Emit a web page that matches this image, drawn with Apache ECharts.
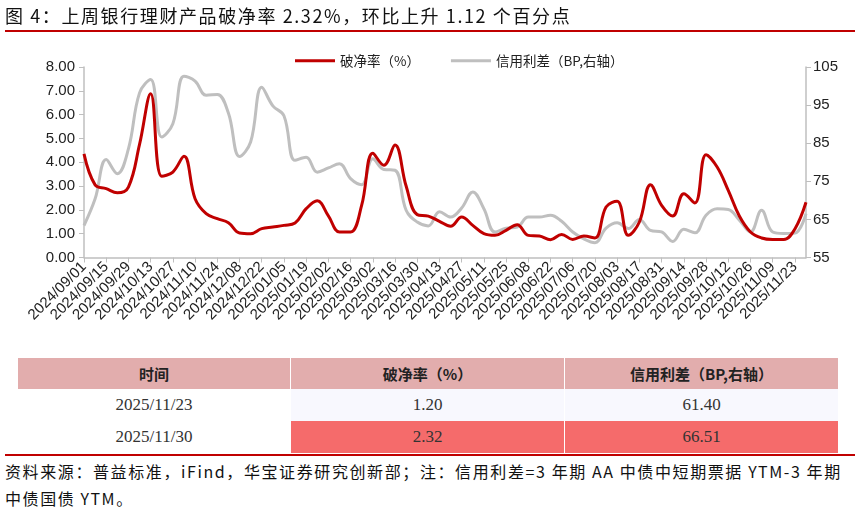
<!DOCTYPE html>
<html lang="zh">

<head>
  <meta charset="UTF-8">
  <title>银行理财产品破净率</title>
  <style>
    body {
      margin: 0;
      width: 861px;
      height: 518px;
      position: relative;
      background: #fff;
      font-family: "Noto Sans CJK SC", sans-serif;
      overflow: hidden;
    }

    #title {
      position: absolute;
      left: 5px;
      top: 2px;
      font-size: 18px;
      letter-spacing: 1.6px;
      color: #111;
      white-space: nowrap;
    }

    .redline {
      position: absolute;
      left: 5px;
      width: 850px;
      height: 2px;
      background: #c00000;
    }

    #myEcharts {
      position: absolute;
      left: 0;
      top: 0;
      width: 861px;
      height: 355px;
    }

    #tbl {
      position: absolute;
      left: 17px;
      top: 358px;
      border-collapse: collapse;
    }

    #tbl td {
      padding: 0;
      text-align: center;
      border-left: 1px solid #fff;
      border-right: 1px solid #fff;
    }

    #tbl .head td {
      background: #e2adad;
      height: 31px;
      font-size: 15px;
      font-weight: bold;
      color: #222;
    }

    #tbl .row td {
      height: 32px;
      font-family: "Liberation Serif", serif;
      font-size: 17px;
      color: #333;
    }

    #note {
      position: absolute;
      left: 5px;
      top: 458px;
      font-size: 16px;
      letter-spacing: 1.6px;
      line-height: 27px;
      color: #111;
      white-space: nowrap;
    }
  </style>
  <script src="https://cdn.jsdelivr.net/npm/echarts@6/dist/echarts.min.js"></script>
</head>

<body>
  <div id="myEcharts"></div>
  <div id="title">图 4：上周银行理财产品破净率 2.32%，环比上升 1.12 个百分点</div>
  <div class="redline" style="top:30px"></div>
  <table id="tbl"></table>
  <div class="redline" style="top:454px"></div>
  <div id="note">资料来源：普益标准，iFind，华宝证券研究创新部；注：信用利差=3 年期 AA 中债中短期票据 YTM-3 年期<br>中债国债 YTM。</div>

  <script>
    // 周度日期
    var dates = [
      '2024/09/01', '2024/09/08', '2024/09/15', '2024/09/22', '2024/09/29', '2024/10/06',
      '2024/10/13', '2024/10/20', '2024/10/27', '2024/11/03', '2024/11/10', '2024/11/17',
      '2024/11/24', '2024/12/01', '2024/12/08', '2024/12/15', '2024/12/22', '2024/12/29',
      '2025/01/05', '2025/01/12', '2025/01/19', '2025/01/26', '2025/02/02', '2025/02/09',
      '2025/02/16', '2025/02/23', '2025/03/02', '2025/03/09', '2025/03/16', '2025/03/23',
      '2025/03/30', '2025/04/06', '2025/04/13', '2025/04/20', '2025/04/27', '2025/05/04',
      '2025/05/11', '2025/05/18', '2025/05/25', '2025/06/01', '2025/06/08', '2025/06/15',
      '2025/06/22', '2025/06/29', '2025/07/06', '2025/07/13', '2025/07/20', '2025/07/27',
      '2025/08/03', '2025/08/10', '2025/08/17', '2025/08/24', '2025/08/31', '2025/09/07',
      '2025/09/14', '2025/09/21', '2025/09/28', '2025/10/05', '2025/10/12', '2025/10/19',
      '2025/10/26', '2025/11/02', '2025/11/09', '2025/11/16', '2025/11/23', '2025/11/30'
    ]

    // 破净率（%）
    var breakRate = [
      4.35, 3.05, 2.89, 2.72, 2.96, 4.75, 6.88, 3.41, 3.59, 4.25, 2.47, 1.84,
      1.63, 1.46, 1.03, 1.00, 1.21, 1.28, 1.35, 1.45, 2.05, 2.38, 1.75, 1.07,
      1.07, 2.20, 4.38, 3.87, 4.72, 3.00, 1.80, 1.74, 1.52, 1.31, 1.70, 1.35,
      1.00, 0.93, 1.14, 1.38, 0.93, 0.90, 0.75, 0.97, 0.76, 0.90, 0.82, 2.12,
      2.36, 0.93, 1.49, 3.06, 2.19, 1.74, 2.68, 2.29, 4.32, 3.80, 2.82, 1.74,
      1.07, 0.82, 0.76, 0.76, 1.20, 2.32
    ]

    // 信用利差（BP）
    var creditSpread = [
      63.4, 70.4, 80.7, 77.0, 83.5, 98.2, 101.7, 86.6, 90.1, 102.6, 101.3, 97.6,
      97.8, 92.9, 81.5, 85.3, 99.7, 94.8, 92.2, 80.5, 81.3, 77.4, 78.5, 79.6,
      75.7, 74.1, 80.9, 78.1, 77.9, 67.4, 64.3, 63.3, 67.0, 65.6, 68.0, 72.2,
      67.8, 61.7, 62.7, 63.0, 65.6, 65.6, 66.1, 64.5, 61.7, 59.9, 58.9, 62.7,
      64.1, 62.6, 65.0, 62.1, 61.7, 59.2, 62.4, 61.5, 66.1, 67.8, 67.6, 64.8,
      61.7, 67.4, 61.7, 61.3, 61.4, 66.51
    ]

    // 表格数据
    var tableHead = ['时间', '破净率（%）', '信用利差（BP,右轴）']
    var tableDates = ['2025/11/23', '2025/11/30']
    var tableRate = ['1.20', '2.32']
    var tableSpread = ['61.40', '66.51']
    var rowColors = ['#f8f8fe', '#f56b6b']

    var html = '<tr class="head">'
    for (var k = 0; k < tableHead.length; k++) {
      html += '<td style="width:' + (k == 0 ? 272 : 273) + 'px">' + tableHead[k] + '</td>'
    }
    html += '</tr>'
    for (var r = 0; r < tableDates.length; r++) {
      html += '<tr class="row"><td style="background:#fff">' + tableDates[r] + '</td>' +
        '<td style="background:' + rowColors[r] + '">' + tableRate[r] + '</td>' +
        '<td style="background:' + rowColors[r] + '">' + tableSpread[r] + '</td></tr>'
    }
    document.getElementById('tbl').innerHTML = html

    var myChart = echarts.init(document.getElementById('myEcharts'))
    var axisColor = '#bfbfbf'

    option = {
      animation: false,
      textStyle: {
        fontFamily: 'Liberation Sans'
      },
      legend: {
        left: 290,
        top: 49,
        icon: 'rect',
        itemWidth: 40,
        itemHeight: 3,
        itemGap: 31,
        textStyle: {
          fontFamily: 'Noto Sans CJK SC',
          fontSize: 13.5,
          color: '#222'
        },
        data: ['破净率（%）', '信用利差（BP,右轴）']
      },
      grid: {
        left: 84,
        right: 55,
        top: 67,
        bottom: 97.5
      },
      xAxis: {
        type: 'category',
        data: dates,
        boundaryGap: false,
        axisLine: {
          lineStyle: {
            color: axisColor,
            width: 1.5
          }
        },
        axisTick: {
          interval: 1,
          length: 5,
          lineStyle: {
            color: axisColor
          }
        },
        axisLabel: {
          interval: 1,
          rotate: 45,
          fontSize: 15,
          color: '#222',
          margin: 7
        }
      },
      yAxis: [{
          type: 'value',
          min: 0,
          max: 8,
          interval: 1,
          splitLine: {
            show: false
          },
          axisLine: {
            show: true,
            lineStyle: {
              color: axisColor,
              width: 1.5
            }
          },
          axisTick: {
            show: true,
            length: 5,
            lineStyle: {
              color: axisColor
            }
          },
          axisLabel: {
            fontSize: 15,
            color: '#222',
            margin: 9,
            formatter: function (v) {
              return v.toFixed(2)
            }
          }
        },
        {
          type: 'value',
          min: 55,
          max: 105,
          interval: 10,
          splitLine: {
            show: false
          },
          axisLine: {
            show: true,
            lineStyle: {
              color: axisColor,
              width: 1.5
            }
          },
          axisTick: {
            show: true,
            length: 5,
            lineStyle: {
              color: axisColor
            }
          },
          axisLabel: {
            fontSize: 15,
            color: '#222',
            margin: 7
          }
        }
      ],
      series: [{
          name: '信用利差（BP,右轴）',
          type: 'line',
          yAxisIndex: 1,
          data: creditSpread,
          smooth: 0.4,
          showSymbol: false,
          z: 2,
          itemStyle: {
            color: '#bfbfbf'
          },
          lineStyle: {
            color: '#bfbfbf',
            width: 3
          }
        },
        {
          name: '破净率（%）',
          type: 'line',
          data: breakRate,
          smooth: 0.4,
          showSymbol: false,
          z: 3,
          itemStyle: {
            color: '#c00000'
          },
          lineStyle: {
            color: '#c00000',
            width: 3
          }
        }
      ]
    }

    myChart.setOption(option)
  </script>
</body>

</html>
